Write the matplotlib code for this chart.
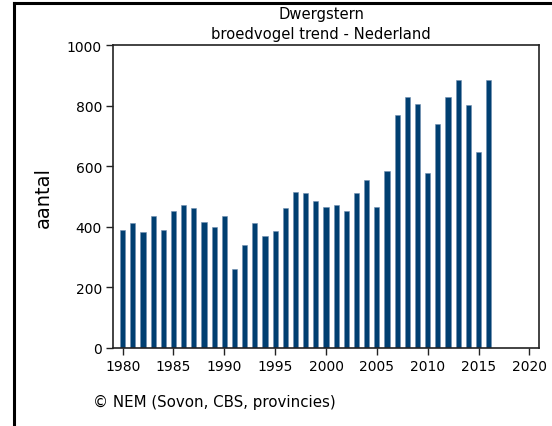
import numpy as np
import matplotlib
matplotlib.use("Agg")
import matplotlib.pyplot as plt
from matplotlib.lines import Line2D

# Data
years = list(range(1980, 2017))
aantal = [390, 411, 382, 436, 390, 451, 471, 461, 416, 400,
          436, 262, 341, 411, 371, 385, 461, 516, 510, 486,
          466, 471, 451, 510, 556, 466, 585, 770, 830, 805,
          576, 740, 830, 886, 801, 646, 886]
xticks = [1980, 1985, 1990, 1995, 2000, 2005, 2010, 2015, 2020]
yticks = [0, 200, 400, 600, 800, 1000]

plt.rcParams["font.family"] = "DejaVu Sans"

W, H = 552, 427
fig = plt.figure(figsize=(W / 100, H / 100), dpi=100)
ax = fig.add_axes([113 / W, 1 - 349 / H, 426 / W, 303 / H])

ax.bar(years, aantal, width=0.5, color="#003f71", edgecolor="#6f8fb0", linewidth=0.4)

ax.set_xlim(1979.05, 2020.95)
ax.set_ylim(0, 1000)
ax.set_xticks(xticks)
ax.set_yticks(yticks)
ax.tick_params(direction="out", length=5, width=1, color="#222222", labelsize=10, pad=3)
for s in ax.spines.values():
    s.set_color("#222222")
    s.set_linewidth(1.2)

ax.set_ylabel("aantal", fontsize=14, labelpad=10)

# title
fig.text(321 / W, 1 - 14 / H, "Dwergstern", ha="center", va="center", fontsize=10.6)
fig.text(321 / W, 1 - 34 / H, "broedvogel trend - Nederland", ha="center", va="center", fontsize=10.6)

# source
fig.text(93 / W, 1 - 402 / H, "\u00a9 NEM (Sovon, CBS, provincies)", ha="left", va="center", fontsize=10.8)

# black frame on left and top
fig.add_artist(Line2D([14 / W, 14 / W], [0, 1 - 3.5 / H], color="black", linewidth=2.2,
                      transform=fig.transFigure, solid_capstyle="projecting"))
fig.add_artist(Line2D([14 / W, 1], [1 - 3.5 / H, 1 - 3.5 / H], color="black", linewidth=2.2,
                      transform=fig.transFigure, solid_capstyle="projecting"))

fig.savefig("out.png", dpi=100)
